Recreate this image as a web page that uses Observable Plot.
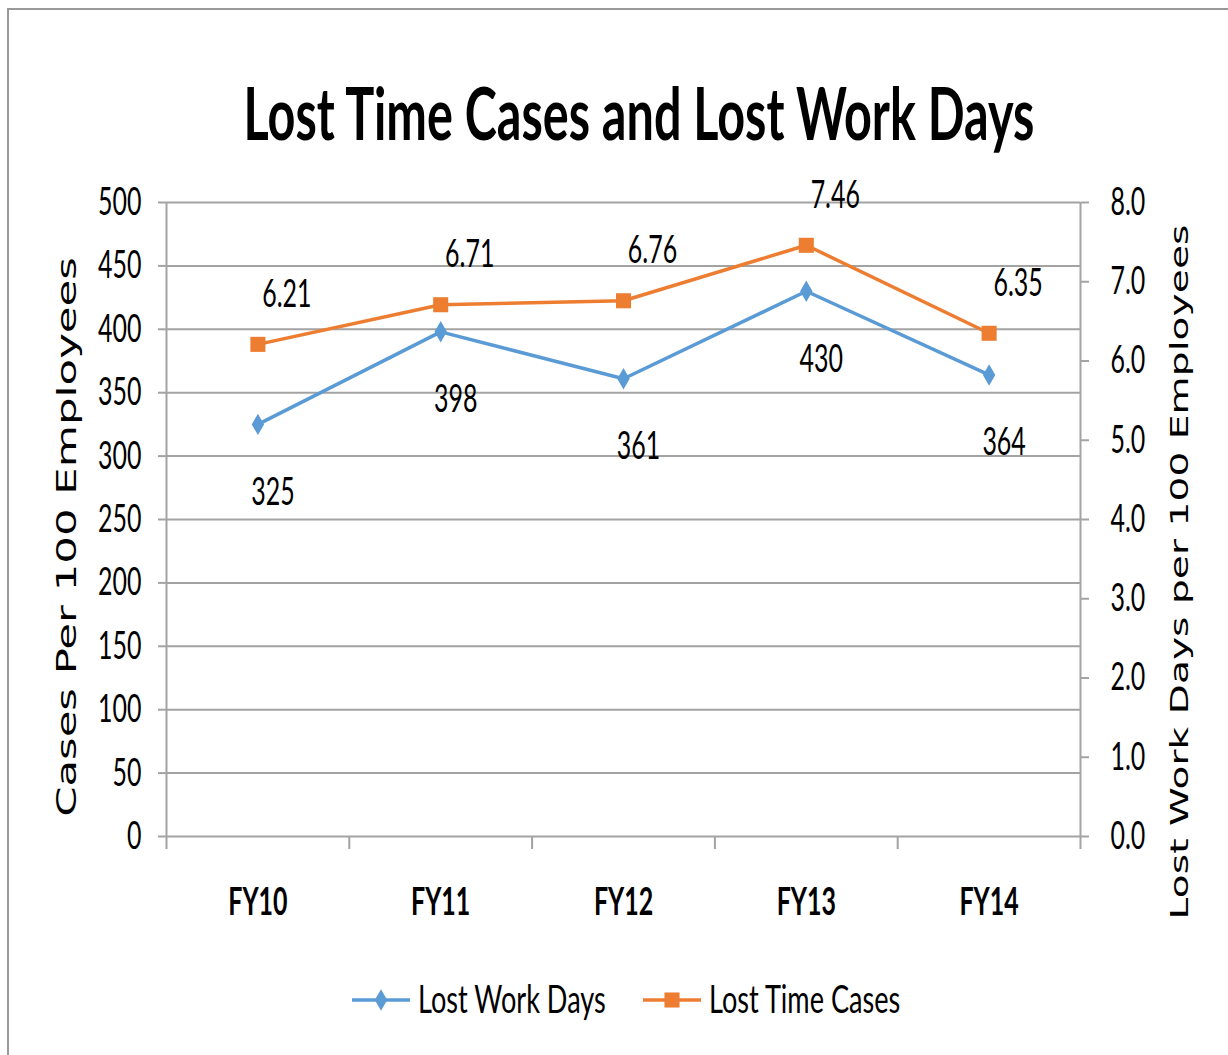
<!DOCTYPE html>
<html><head><meta charset="utf-8">
<script src="https://cdn.jsdelivr.net/npm/d3@7"></script>
<script src="https://cdn.jsdelivr.net/npm/@observablehq/plot@0.6"></script>
<style>
html,body{margin:0;padding:0;background:#fff;}
#wrap{position:relative;width:1228px;height:1055px;overflow:hidden;background:#fff;}
#border{position:absolute;left:7px;top:8px;width:1300px;height:1200px;border:2px solid #999;box-sizing:border-box;}
#chart{position:absolute;left:0;top:0;}
</style></head><body>
<div id="wrap"><div id="border"></div><div id="chart"></div></div>
<script>
// ---- data ----
const years = ["FY10", "FY11", "FY12", "FY13", "FY14"];
const lostWorkDays = [325, 398, 361, 430, 364];
const lostTimeCases = [6.21, 6.71, 6.76, 7.46, 6.35];
const leftTicks = [0, 50, 100, 150, 200, 250, 300, 350, 400, 450, 500];
const rightTicks = [0, 1, 2, 3, 4, 5, 6, 7, 8];
const seriesNames = ["Lost Work Days", "Lost Time Cases"];
const titleText = "Lost Time Cases and Lost Work Days";
const leftAxisTitle = "Cases Per 100 Employees";
const rightAxisTitle = "Lost Work Days per 100 Employees";

// ---- setup ----
const LEFT_MAX = 500, RIGHT_MAX = 8;
const toLeft = v => v * LEFT_MAX / RIGHT_MAX;
const blue = "#5B9BD5", orange = "#ED7D31", grid = "#A3A3A3";
const K = 0.64; // horizontal condensing of text
const FONT = "Lato, 'Open Sans', sans-serif";

const workRows = years.map((y, i) => ({i, year: y, value: lostWorkDays[i]}));
const caseRows = years.map((y, i) => ({i, year: y, value: lostTimeCases[i]}));
const cx = d => d.i + 0.5;

const plot = Plot.plot({
  width: 1228, height: 1055,
  marginLeft: 166, marginRight: 148, marginTop: 202, marginBottom: 219,
  x: {type: "linear", domain: [0, years.length]},
  y: {domain: [0, LEFT_MAX]},
  style: {fontFamily: FONT, fontSize: "39px", color: "#000", background: "transparent"},
  marks: [
    Plot.gridY(leftTicks.slice(1), {stroke: grid, strokeOpacity: 1, strokeWidth: 2}),
    Plot.ruleY([0], {stroke: grid, strokeWidth: 2}),
    Plot.ruleX([0, years.length], {stroke: grid, strokeWidth: 2}),
    Plot.axisY(leftTicks, {anchor: "left", tickSize: 8, tickPadding: 17, stroke: grid, strokeWidth: 2,
      fill: "#000", fontSize: 39, label: null, tickFormat: d => String(d)}),
    Plot.axisY(rightTicks.map(toLeft), {anchor: "right", tickSize: 8, tickPadding: 22, stroke: grid, strokeWidth: 2,
      fill: "#000", fontSize: 39, label: null, tickFormat: d => (d * RIGHT_MAX / LEFT_MAX).toFixed(1)}),
    Plot.axisX(d3.range(0, years.length + 1), {anchor: "bottom", tickSize: 13, stroke: grid, strokeWidth: 2,
      label: null, tickFormat: () => ""}),
    Plot.axisX(years.map((_, i) => i + 0.5), {anchor: "bottom", tickSize: 0, tickPadding: 51,
      fill: "#000", fontSize: 39, fontWeight: "bold", label: null, tickFormat: v => years[Math.floor(v)]}),
    Plot.line(workRows, {x: cx, y: "value", stroke: blue, strokeWidth: 3.5}),
    Plot.line(caseRows, {x: cx, y: d => toLeft(d.value), stroke: orange, strokeWidth: 3.5}),
    Plot.dot(workRows, {x: cx, y: "value", symbol: "diamond", r: 6.5, fill: blue}),
    Plot.dot(caseRows, {x: cx, y: d => toLeft(d.value), symbol: "square", r: 8.5, fill: orange}),
    Plot.text(workRows, {x: cx, y: "value", text: d => String(d.value), dx: 15, dy: 68, fontSize: 39, fill: "#000"}),
    Plot.text(caseRows, {x: cx, y: d => toLeft(d.value), text: d => d.value.toFixed(2), dx: 29, dy: -50, fontSize: 39, fill: "#000"})
  ]
});

document.getElementById("chart").appendChild(plot);
const svg = d3.select(plot);

// condense a text horizontally around its anchor x
function condense(node, k) {
  const L = node.getComputedTextLength();
  if (!(L > 0)) return;
  const T = node.getAttribute("transform") || "";
  const X = parseFloat(node.getAttribute("x")) || 0;
  node.setAttribute("transform", `${T} translate(${X},0) scale(${k},1) translate(${-X},0)`.trim());
}
svg.selectAll("text").each(function () { condense(this, K); });

// title
const t = svg.append("text")
  .attr("x", 639).attr("y", 140).attr("text-anchor", "middle")
  .attr("font-family", FONT).attr("font-weight", "bold").attr("font-size", 73)
  .attr("fill", "#000").text(titleText);
condense(t.node(), 0.665);

// axis titles (rotated, stretched along their length)
function vTitle(text, x, y, size, len) {
  const n = svg.append("text")
    .attr("text-anchor", "middle")
    .attr("font-family", "'DejaVu Sans', Verdana, sans-serif").attr("font-size", size).attr("fill", "#000")
    .text(text).node();
  const L = n.getComputedTextLength();
  n.setAttribute("transform", `translate(${x},${y}) rotate(-90) scale(${len / L},1)`);
}
vTitle(leftAxisTitle, 76, 537, 26, 560);
vTitle(rightAxisTitle, 1188, 572, 24, 695);

// legend
const lg = svg.append("g");
const items = [
  {name: seriesNames[0], color: blue, sym: d3.symbolDiamond, area: Math.PI * 6.5 * 6.5, x0: 352},
  {name: seriesNames[1], color: orange, sym: d3.symbolSquare, area: Math.PI * 8.5 * 8.5, x0: 643}
];
const ly = 1000;
items.forEach(it => {
  lg.append("line").attr("x1", it.x0).attr("x2", it.x0 + 58).attr("y1", ly).attr("y2", ly)
    .attr("stroke", it.color).attr("stroke-width", 3.5);
  lg.append("path").attr("d", d3.symbol(it.sym, it.area)()).attr("transform", `translate(${it.x0 + 29},${ly})`)
    .attr("fill", it.color);
  const tx = lg.append("text").attr("x", it.x0 + 66).attr("y", ly + 13).attr("text-anchor", "start")
    .attr("font-family", FONT).attr("font-size", 38).attr("fill", "#000").text(it.name);
  condense(tx.node(), 0.714);
});
</script>
</body></html>
